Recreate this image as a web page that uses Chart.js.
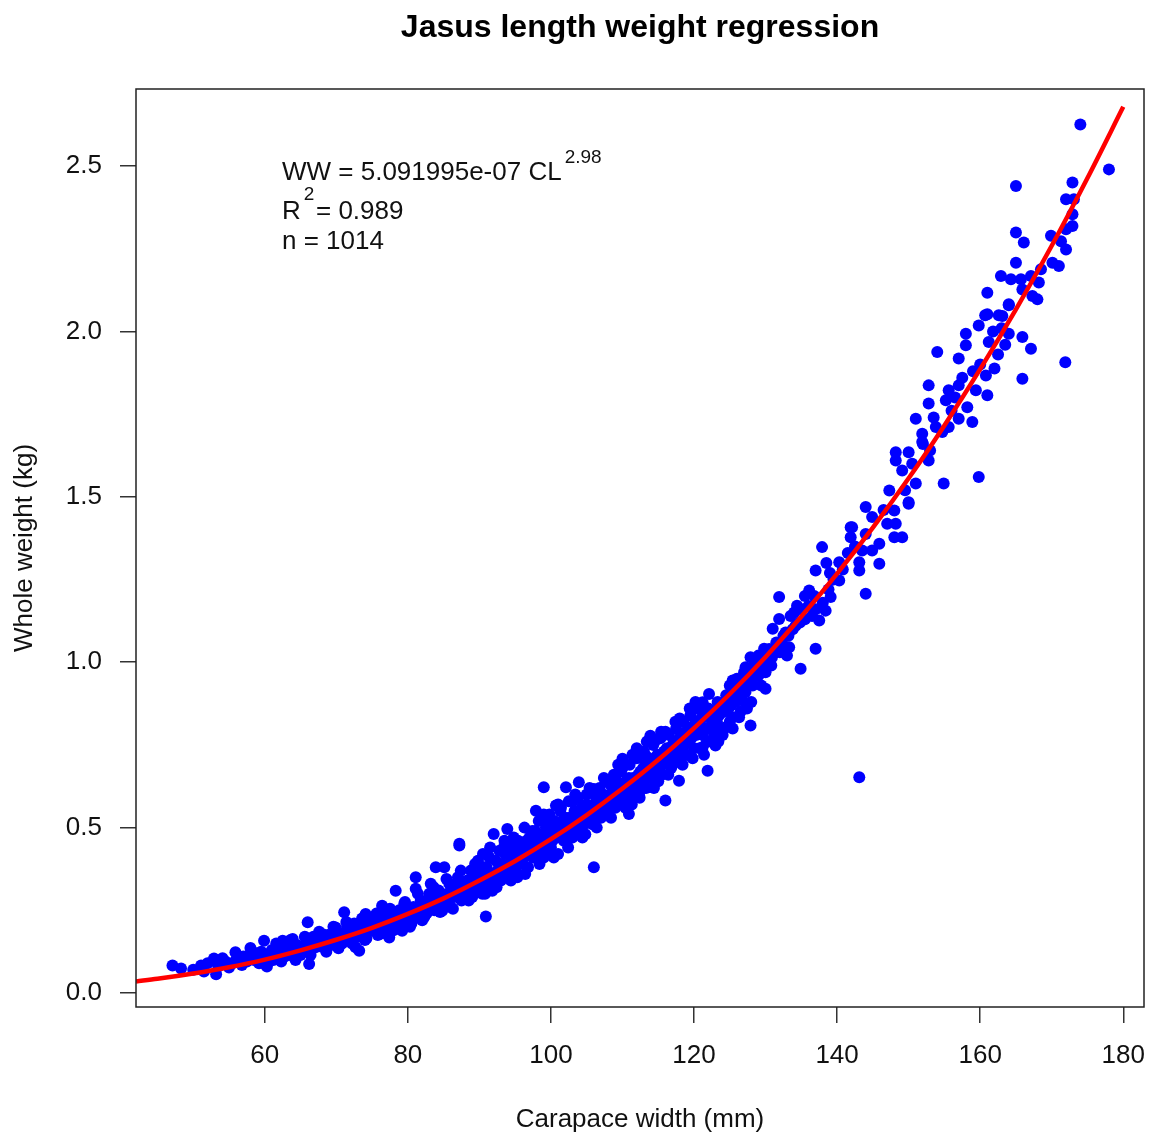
<!DOCTYPE html>
<html>
<head>
<meta charset="utf-8">
<title>Jasus length weight regression</title>
<script src="https://cdn.jsdelivr.net/npm/chart.js@4.4.1/dist/chart.umd.min.js"></script>
<style>
  html, body { margin: 0; padding: 0; background: #ffffff; }
  #wrap { width: 1150px; height: 1137px; }
</style>
</head>
<body>
<div id="wrap"><canvas id="lwChart" width="1150" height="1137"></canvas></div>
<script>
const carapaceWidth = [
    47.1, 48.3, 51.1, 52.9, 54.1, 53.2, 55.0, 55.9, 58.0, 59.9,
    60.1, 62.5, 63.9, 66.0, 66.2, 65.3, 68.1, 67.1, 71.1, 69.9,
    72.7, 73.2, 74.1, 76.4, 77.4, 78.3, 79.2, 81.1, 81.1, 83.2,
    83.9, 85.1, 84.8, 87.2, 87.6, 50.0, 51.5, 52.0, 53.5, 54.5,
    55.5, 56.0, 56.8, 57.0, 57.5, 58.5, 58.8, 59.2, 60.5, 61.0,
    61.2, 61.8, 62.0, 62.8, 63.0, 63.5, 64.0, 64.5, 65.0, 65.8,
    66.5, 66.8, 67.5, 68.0, 68.5, 69.0, 69.3, 70.0, 70.5, 70.8,
    71.5, 71.8, 72.0, 72.5, 73.0, 73.5, 74.0, 74.5, 75.0, 75.3,
    75.8, 76.0, 76.8, 77.0, 77.8, 78.0, 78.8, 79.0, 79.5, 80.0,
    80.3, 80.8, 81.5, 81.8, 82.0, 82.5, 82.8, 83.0, 83.5, 84.0,
    84.3, 85.0, 85.5, 85.8, 86.0, 86.5, 86.8, 87.0, 87.5, 88.0,
    88.3, 88.8, 89.0, 89.5, 89.8, 106.0, 99.0, 102.1, 103.9, 97.9,
    87.2, 92.0, 93.9, 113.9, 110.0, 116.0, 121.9, 117.9, 123.0, 124.4,
    121.2, 122.1, 125.4, 95.3, 93.7, 91.8, 110.9, 113.5, 107.7, 106.0,
    100.7, 90.9, 90.0, 90.3, 90.5, 90.8, 91.0, 91.3, 91.5, 91.8,
    92.0, 92.3, 92.5, 92.8, 93.0, 93.2, 93.5, 93.8, 94.0, 94.3,
    94.5, 94.8, 95.0, 95.3, 95.5, 95.8, 96.0, 96.3, 96.5, 96.8,
    97.0, 97.3, 97.5, 97.8, 98.0, 98.3, 98.5, 98.8, 99.0, 99.3,
    99.5, 99.8, 100.0, 100.3, 100.5, 100.8, 101.0, 101.3, 101.5, 101.8,
    102.0, 102.3, 102.5, 102.8, 103.0, 103.3, 103.5, 103.8, 104.0, 104.3,
    104.5, 104.8, 105.0, 105.3, 105.5, 105.8, 106.3, 106.5, 106.8, 107.0,
    107.3, 107.5, 108.0, 108.3, 108.5, 108.8, 109.0, 109.3, 109.5, 109.8,
    110.3, 110.5, 110.8, 111.0, 111.3, 111.5, 111.8, 112.0, 112.3, 112.5,
    112.8, 113.0, 113.3, 113.8, 114.0, 114.3, 114.5, 114.8, 115.0, 115.3,
    115.5, 115.8, 116.3, 116.5, 116.8, 117.0, 117.3, 117.5, 117.8, 118.0,
    118.3, 118.5, 118.8, 119.0, 119.3, 119.5, 119.8, 120.0, 120.3, 120.5,
    120.8, 121.0, 121.5, 121.8, 122.0, 122.5, 122.8, 123.3, 123.5, 124.0,
    124.5, 124.8, 125.0, 125.8, 126.0, 126.5, 127.0, 127.5, 128.5, 129.0,
    129.5, 130.5, 131.5, 132.0, 143.1, 127.9, 130.0, 134.9, 137.0, 131.9,
    131.9, 131.0, 133.3, 133.0, 137.9, 137.0, 136.1, 134.4, 138.4, 137.5,
    144.0, 145.9, 141.9, 141.9, 144.0, 143.1, 143.1, 140.3, 140.3, 139.1,
    148.0, 149.1, 148.2, 150.0, 147.0, 144.9, 145.9, 126.8, 126.3, 125.4,
    127.9, 129.8, 130.9, 130.0, 128.1, 127.2, 121.2, 123.5, 124.4, 134.0,
    135.0, 135.5, 136.5, 136.0, 134.8, 133.5, 137.0, 138.0, 136.8, 138.8,
    139.5, 140.8, 141.5, 142.5, 139.0, 138.5, 135.5, 132.5, 133.8, 129.0,
    128.5, 171.9, 165.9, 159.8, 154.9, 154.0, 158.9, 161.0, 162.0, 165.9,
    167.1, 164.0, 160.7, 159.8, 158.0, 158.0, 157.0, 152.8, 155.6, 157.0,
    155.2, 151.0, 152.8, 151.9, 151.9, 148.2, 150.0, 148.2, 152.8, 149.1,
    151.0, 147.3, 150.0, 144.9, 148.0, 142.1, 144.0, 143.5, 155.6, 154.7,
    153.8, 157.0, 158.2, 159.4, 160.8, 162.6, 164.0, 161.2, 156.0, 153.5,
    150.5, 149.5, 146.5, 152.0, 153.0, 156.5, 157.5, 159.0, 160.0, 162.5,
    163.5, 161.8, 163.0, 174.0, 178.0, 165.0, 172.9, 172.0, 173.1, 172.9,
    172.9, 172.0, 165.0, 166.1, 169.9, 171.3, 172.0, 165.0, 170.1, 171.0,
    168.5, 162.9, 164.3, 165.7, 167.1, 168.2, 165.9, 161.0, 167.3, 168.0,
    164.0, 161.0, 163.1,
    // dense band along the curve
    56.3, 57.2, 57.8, 58.2, 59.0, 59.5, 60.0, 60.8, 61.5, 62.2,
    62.6, 63.2, 63.8, 64.2, 64.8, 65.5, 66.0, 66.3, 67.0, 67.8,
    68.3, 68.8, 69.5, 70.2, 70.8, 71.2, 71.7, 72.3, 72.8, 73.3,
    73.8, 74.3, 74.8, 75.5, 76.2, 76.5, 77.2, 77.6, 78.2, 78.5,
    79.3, 79.8, 80.2, 80.6, 81.2, 81.6, 82.2, 82.6, 83.3, 83.7,
    84.2, 84.6, 85.2, 85.6, 86.2, 86.6, 87.3, 87.8, 88.2, 88.6,
    89.2, 89.6, 90.2, 90.6, 91.2, 91.6, 92.2, 92.6, 93.3, 93.6,
    94.2, 94.6, 95.2, 95.6, 96.2, 96.6, 97.2, 97.6, 98.2, 98.6,
    99.2, 99.6, 100.2, 100.6, 101.2, 101.6, 102.2, 102.6, 103.2, 103.6,
    104.2, 104.6, 105.2, 105.6, 106.2, 106.6, 107.2, 107.6, 108.2, 108.6,
    109.2, 109.6, 110.2, 110.6, 111.2, 111.6, 112.2, 112.6, 113.2, 113.6,
    114.2, 114.6, 115.2, 115.6, 116.2, 116.6, 117.2, 117.6, 118.2, 118.6,
    119.2, 119.6, 120.2, 120.6, 121.2, 121.6, 122.2, 122.6, 123.2, 123.6,
    124.2, 124.6, 125.2, 125.6, 126.2, 126.6, 127.2, 127.6, 128.2, 128.8,
    129.2, 129.6, 130.2, 130.8, 131.2, 131.8, 132.3, 132.8, 133.2, 134.2,
    113.0, 115.0, 117.0, 119.0, 120.0, 122.0, 124.0, 125.0, 126.5, 128.0,
    110.0, 112.0, 114.5, 116.0, 118.0, 120.2, 105.0, 103.0, 101.0, 99.0,
    60.3, 62.3, 64.3, 66.4, 68.6, 70.3, 72.2, 74.2, 76.3, 78.4,
    80.5, 82.3, 84.5, 86.3, 88.5, 90.4, 92.4, 94.4, 96.4, 98.4,
    61.6, 63.6, 65.6, 67.6, 69.6, 71.4, 73.6, 75.6, 77.5, 79.6,
    81.4, 83.6, 85.4, 87.4, 89.4, 91.4, 93.4, 95.4, 97.4, 99.4,
    100.4, 102.4, 104.4, 106.4, 108.4, 110.4, 112.4, 114.4, 116.4, 118.4,
    101.4, 103.4, 105.4, 107.4, 109.4, 111.4, 113.4, 115.4, 117.4, 119.4,
    100.9, 102.9, 104.9, 106.9, 108.9, 110.9, 112.9, 114.9, 116.9, 118.9,
    120.9, 122.9, 124.9, 126.9, 128.9, 121.4, 123.4, 125.4, 127.4, 129.4
];
const wholeWeight = [
    0.083, 0.074, 0.083, 0.104, 0.105, 0.057, 0.077, 0.123, 0.136, 0.158,
    0.088, 0.158, 0.163, 0.214, 0.088, 0.128, 0.178, 0.138, 0.244, 0.198,
    0.138, 0.128, 0.239, 0.264, 0.168, 0.309, 0.188, 0.350, 0.315, 0.330,
    0.380, 0.380, 0.249, 0.446, 0.300, 0.070, 0.065, 0.090, 0.080, 0.095,
    0.090, 0.100, 0.085, 0.110, 0.095, 0.100, 0.120, 0.090, 0.110, 0.130,
    0.100, 0.140, 0.120, 0.110, 0.140, 0.125, 0.110, 0.145, 0.115, 0.150,
    0.130, 0.170, 0.155, 0.140, 0.160, 0.170, 0.145, 0.160, 0.180, 0.150,
    0.200, 0.165, 0.180, 0.210, 0.170, 0.190, 0.160, 0.210, 0.190, 0.230,
    0.175, 0.200, 0.220, 0.240, 0.210, 0.190, 0.250, 0.220, 0.270, 0.230,
    0.200, 0.260, 0.240, 0.280, 0.220, 0.270, 0.250, 0.300, 0.260, 0.280,
    0.310, 0.270, 0.300, 0.330, 0.260, 0.290, 0.320, 0.350, 0.280, 0.310,
    0.340, 0.370, 0.290, 0.330, 0.400, 0.380, 0.622, 0.622, 0.637, 0.551,
    0.451, 0.481, 0.496, 0.778, 0.708, 0.582, 0.672, 0.642, 0.748, 0.803,
    0.879, 0.904, 0.834, 0.350, 0.350, 0.309, 0.541, 0.713, 0.642, 0.617,
    0.567, 0.231, 0.360, 0.320, 0.420, 0.300, 0.380, 0.340, 0.440, 0.360,
    0.330, 0.400, 0.370, 0.430, 0.340, 0.390, 0.460, 0.380, 0.360, 0.420,
    0.400, 0.470, 0.370, 0.440, 0.410, 0.390, 0.450, 0.500, 0.420, 0.380,
    0.470, 0.440, 0.410, 0.490, 0.450, 0.520, 0.430, 0.470, 0.410, 0.500,
    0.460, 0.540, 0.440, 0.490, 0.520, 0.470, 0.420, 0.550, 0.500, 0.460,
    0.530, 0.490, 0.580, 0.510, 0.470, 0.550, 0.520, 0.590, 0.500, 0.560,
    0.530, 0.480, 0.570, 0.540, 0.610, 0.510, 0.580, 0.550, 0.620, 0.530,
    0.600, 0.570, 0.550, 0.630, 0.590, 0.660, 0.560, 0.620, 0.600, 0.670,
    0.580, 0.640, 0.610, 0.690, 0.570, 0.650, 0.620, 0.710, 0.600, 0.670,
    0.640, 0.730, 0.620, 0.690, 0.660, 0.750, 0.640, 0.710, 0.680, 0.770,
    0.660, 0.730, 0.700, 0.780, 0.680, 0.750, 0.720, 0.800, 0.700, 0.770,
    0.740, 0.820, 0.720, 0.790, 0.760, 0.840, 0.710, 0.810, 0.780, 0.860,
    0.740, 0.830, 0.800, 0.760, 0.860, 0.820, 0.780, 0.880, 0.840, 0.800,
    0.900, 0.860, 0.930, 0.880, 0.950, 0.910, 0.970, 0.930, 0.990, 1.020,
    0.970, 1.040, 1.060, 1.030, 0.652, 0.809, 0.920, 0.980, 1.041, 1.197,
    1.131, 1.101, 1.045, 1.020, 1.348, 1.277, 1.217, 1.171, 1.156, 1.126,
    1.207, 1.298, 1.408, 1.378, 1.469, 1.302, 1.277, 1.302, 1.247, 1.197,
    1.378, 1.378, 1.419, 1.479, 1.419, 1.338, 1.358, 0.884, 0.834, 0.945,
    1.015, 1.041, 1.015, 0.970, 0.945, 0.985, 0.743, 0.803, 0.864, 1.150,
    1.160, 1.130, 1.140, 1.170, 1.120, 1.140, 1.160, 1.180, 1.200, 1.220,
    1.250, 1.280, 1.330, 1.350, 1.270, 1.300, 1.200, 1.080, 1.100, 0.960,
    1.000, 1.907, 1.857, 1.560, 1.540, 1.938, 1.726, 1.807, 1.888, 1.983,
    1.948, 1.993, 2.049, 2.018, 1.993, 1.958, 1.918, 1.837, 1.822, 1.837,
    1.792, 1.736, 1.782, 1.691, 1.666, 1.635, 1.635, 1.610, 1.610, 1.580,
    1.540, 1.519, 1.484, 1.439, 1.459, 1.408, 1.388, 1.338, 1.711, 1.696,
    1.711, 1.736, 1.771, 1.822, 1.867, 2.049, 2.079, 1.968, 1.760, 1.740,
    1.600, 1.520, 1.460, 1.660, 1.640, 1.800, 1.860, 1.880, 1.900, 1.930,
    1.960, 2.000, 2.010, 2.626, 2.490, 2.440, 2.450, 2.400, 2.400, 2.354,
    2.319, 2.309, 2.299, 2.269, 2.289, 2.273, 2.248, 2.208, 2.208, 2.198,
    2.188, 2.168, 2.158, 2.158, 2.168, 2.148, 2.127, 2.117, 2.107, 2.097,
    2.082, 2.052, 2.047,
    // dense band along the curve
    0.095, 0.100, 0.115, 0.105, 0.112, 0.125, 0.118, 0.100, 0.120, 0.130,
    0.120, 0.128, 0.135, 0.125, 0.130, 0.140, 0.145, 0.155, 0.150, 0.160,
    0.150, 0.175, 0.160, 0.170, 0.165, 0.180, 0.175, 0.185, 0.195, 0.180,
    0.200, 0.185, 0.195, 0.205, 0.210, 0.190, 0.215, 0.200, 0.225, 0.210,
    0.235, 0.215, 0.245, 0.230, 0.250, 0.235, 0.260, 0.240, 0.275, 0.250,
    0.265, 0.290, 0.285, 0.270, 0.300, 0.310, 0.295, 0.330, 0.320, 0.300,
    0.350, 0.310, 0.345, 0.380, 0.360, 0.330, 0.360, 0.345, 0.370, 0.420,
    0.390, 0.440, 0.400, 0.430, 0.410, 0.460, 0.420, 0.450, 0.480, 0.440,
    0.470, 0.430, 0.460, 0.500, 0.480, 0.520, 0.470, 0.530, 0.500, 0.480,
    0.540, 0.510, 0.560, 0.530, 0.600, 0.560, 0.580, 0.540, 0.600, 0.570,
    0.640, 0.580, 0.620, 0.600, 0.640, 0.600, 0.660, 0.630, 0.690, 0.650,
    0.700, 0.670, 0.720, 0.690, 0.740, 0.710, 0.760, 0.730, 0.780, 0.750,
    0.800, 0.770, 0.790, 0.820, 0.780, 0.840, 0.800, 0.850, 0.820, 0.870,
    0.850, 0.880, 0.870, 0.910, 0.890, 0.930, 0.910, 0.950, 0.930, 0.970,
    0.990, 1.000, 1.010, 0.990, 1.030, 1.050, 1.060, 1.090, 1.080, 1.110,
    0.620, 0.640, 0.690, 0.720, 0.740, 0.760, 0.780, 0.820, 0.850, 0.880,
    0.680, 0.740, 0.760, 0.790, 0.830, 0.880, 0.600, 0.580, 0.570, 0.540,
    0.080, 0.095, 0.100, 0.115, 0.125, 0.135, 0.150, 0.165, 0.180, 0.195,
    0.210, 0.230, 0.245, 0.255, 0.280, 0.300, 0.320, 0.340, 0.360, 0.390,
    0.150, 0.160, 0.170, 0.185, 0.200, 0.215, 0.225, 0.240, 0.255, 0.275,
    0.300, 0.320, 0.345, 0.370, 0.390, 0.410, 0.440, 0.460, 0.490, 0.520,
    0.410, 0.440, 0.470, 0.500, 0.530, 0.560, 0.590, 0.620, 0.660, 0.690,
    0.560, 0.600, 0.620, 0.650, 0.690, 0.720, 0.760, 0.790, 0.820, 0.860,
    0.480, 0.520, 0.550, 0.580, 0.610, 0.650, 0.680, 0.720, 0.740, 0.790,
    0.810, 0.830, 0.880, 0.940, 1.000, 0.720, 0.760, 0.800, 0.860, 0.930
];

// Fitted curve
const fitWidth  = [42, 45, 50, 55, 60, 65, 70, 75, 80, 85, 90, 95, 100, 105, 110,
                   115, 120, 125, 130, 135, 140, 145, 150, 155, 160, 165, 170, 175, 180];
const fitWeight = [0.035, 0.043, 0.059, 0.078, 0.101, 0.129, 0.161, 0.197, 0.239, 0.286,
                   0.340, 0.399, 0.465, 0.538, 0.618, 0.705, 0.801, 0.904, 1.016, 1.138,
                   1.268, 1.407, 1.556, 1.716, 1.886, 2.067, 2.259, 2.464, 2.679];

// Tick labels
const widthTicks  = [60, 80, 100, 120, 140, 160, 180];
const weightTicks = [0, 0.5, 1, 1.5, 2, 2.5];

const fontFamily = "'Liberation Sans', Arial, sans-serif";
const textColor = '#111111';

// Draws the plot frame, the main title and the regression text (R-style)
const plotDecor = {
    id: 'plotDecor',
    afterDatasetsDraw(chart) {
        const { ctx, chartArea: a } = chart;
        ctx.save();
        ctx.strokeStyle = '#222222';
        ctx.lineWidth = 1.5;
        ctx.strokeRect(a.left, a.top, a.right - a.left, a.bottom - a.top);

        ctx.fillStyle = '#000000';
        ctx.font = 'bold 32px ' + fontFamily;
        ctx.textAlign = 'center';
        ctx.textBaseline = 'alphabetic';
        ctx.fillText('Jasus length weight regression', (a.left + a.right) / 2, 37);

        ctx.fillStyle = textColor;
        ctx.textAlign = 'left';
        const x0 = 282;
        ctx.font = '26px ' + fontFamily;
        const line1 = 'WW = 5.091995e-07 CL';
        ctx.fillText(line1, x0, 180);
        const w1 = ctx.measureText(line1).width;
        ctx.font = '19px ' + fontFamily;
        ctx.fillText('2.98', x0 + w1 + 3, 163);

        ctx.font = '26px ' + fontFamily;
        ctx.fillText('R', x0, 219);
        const wR = ctx.measureText('R').width;
        ctx.font = '19px ' + fontFamily;
        ctx.fillText('2', x0 + wR + 3, 200);
        ctx.font = '26px ' + fontFamily;
        ctx.fillText('= 0.989', 316, 219);

        ctx.fillText('n = 1014', x0, 249);
        ctx.restore();
    }
};

document.addEventListener('DOMContentLoaded', function() {
    const points = carapaceWidth.map((x, i) => ({ x: x, y: wholeWeight[i] }));
    const curve = fitWidth.map((x, i) => ({ x: x, y: fitWeight[i] }));

    new Chart(document.getElementById('lwChart').getContext('2d'), {
        type: 'scatter',
        data: {
            datasets: [{
                label: 'Fitted',
                data: curve,
                showLine: true,
                borderColor: '#ff0000',
                borderWidth: 4.5,
                pointRadius: 0,
                cubicInterpolationMode: 'monotone',
                order: 0
            }, {
                label: 'Observed',
                data: points,
                backgroundColor: '#0000ff',
                borderWidth: 0,
                pointRadius: 6,
                order: 1
            }]
        },
        options: {
            responsive: false,
            animation: false,
            layout: { padding: { top: 89, right: 3, left: 0, bottom: 0 } },
            plugins: {
                legend: { display: false },
                tooltip: { enabled: false }
            },
            scales: {
                x: {
                    type: 'linear',
                    min: 42,
                    max: 182.9,
                    afterFit: s => { s.height = 130; s.paddingLeft = 0; s.paddingRight = 0; },
                    afterBuildTicks: s => { s.ticks = widthTicks.map(v => ({ value: v })); },
                    grid: { drawOnChartArea: false, tickLength: 16, color: '#333333', lineWidth: 1.5 },
                    border: { display: false },
                    ticks: {
                        padding: 17,
                        color: textColor,
                        font: { family: fontFamily, size: 26 },
                        maxRotation: 0,
                        callback: v => String(v)
                    },
                    title: {
                        display: true,
                        text: 'Carapace width (mm)',
                        color: textColor,
                        font: { family: fontFamily, size: 26 },
                        padding: { top: 0, bottom: 2 }
                    }
                },
                y: {
                    type: 'linear',
                    min: -0.0423,
                    max: 2.733,
                    afterFit: s => { s.width = 136; s.paddingTop = 0; s.paddingBottom = 0; },
                    afterBuildTicks: s => { s.ticks = weightTicks.map(v => ({ value: v })); },
                    grid: { drawOnChartArea: false, tickLength: 16, color: '#333333', lineWidth: 1.5 },
                    border: { display: false },
                    ticks: {
                        padding: 18,
                        color: textColor,
                        font: { family: fontFamily, size: 26 },
                        callback: v => Number(v).toFixed(1)
                    },
                    title: {
                        display: true,
                        text: 'Whole weight (kg)',
                        color: textColor,
                        font: { family: fontFamily, size: 26 },
                        padding: { top: 9, bottom: 0 }
                    }
                }
            }
        },
        plugins: [plotDecor]
    });
});
</script>
</body>
</html>
